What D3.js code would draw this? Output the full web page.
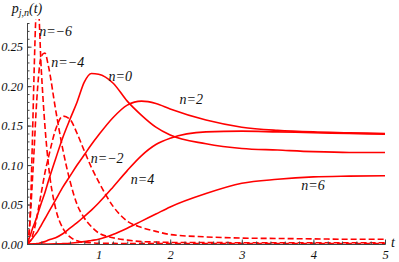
<!doctype html>
<html lang="en">
<head>
<meta charset="utf-8">
<title>p_jn(t)</title>
<script src="https://d3js.org/d3.v7.min.js"></script>
<style>
  body { margin: 0; background: #fff; }
  svg text { font-family: 'Liberation Serif', 'Times New Roman', serif; font-style: italic; fill: #111; }
</style>
</head>
<body>
<svg id="chart" width="399" height="262"></svg>
<script>
// time grid (t) shared by all curves
var tGrid = [0, 0.025, 0.05, 0.075, 0.1, 0.125, 0.15, 0.2, 0.25, 0.3, 0.4, 0.5, 0.6, 0.7, 0.8, 0.9, 1.0, 1.2, 1.4, 1.6, 1.8, 2.0, 2.5, 3.0, 3.5, 4.0, 4.5, 5.0];

// values, one array per n
var pNeg6 = [0, 0.01, 0.05, 0.13, 0.22, 0.29, 0.31, 0.22, 0.15, 0.10, 0.045, 0.02, 0.009, 0.004, 0.002, 0.0015, 0.001, 0.0008, 0.0006, 0.0005, 0.0005, 0.0005, 0.0005, 0.0005, 0.0005, 0.0005, 0.0005, 0.0005];
var pNeg4 = [0, 0.01, 0.04, 0.08, 0.12, 0.165, 0.2, 0.238, 0.242, 0.225, 0.17, 0.12, 0.08, 0.05, 0.033, 0.022, 0.014, 0.008, 0.005, 0.003, 0.0025, 0.002, 0.0018, 0.0016, 0.0015, 0.0015, 0.0015, 0.0015];
var pNeg2 = [0, 0.002, 0.005, 0.01, 0.018, 0.028, 0.04, 0.065, 0.09, 0.11, 0.145, 0.162, 0.158, 0.14, 0.118, 0.097, 0.079, 0.048, 0.029, 0.021, 0.016, 0.012, 0.009, 0.0075, 0.007, 0.0065, 0.006, 0.006];
var pPos0 = [0, 0.006, 0.012, 0.019, 0.025, 0.031, 0.038, 0.052, 0.065, 0.08, 0.108, 0.135, 0.158, 0.18, 0.205, 0.216, 0.215, 0.204, 0.181, 0.163, 0.148, 0.138, 0.127, 0.121, 0.119, 0.117, 0.116, 0.116];
var pPos2 = [0, 0.002, 0.004, 0.007, 0.01, 0.013, 0.016, 0.024, 0.032, 0.04, 0.056, 0.072, 0.086, 0.1, 0.113, 0.126, 0.138, 0.16, 0.176, 0.181, 0.178, 0.171, 0.157, 0.148, 0.144, 0.142, 0.141, 0.140];
var pPos4 = [0, 0, 0, 0, 0.0002, 0.0004, 0.0006, 0.002, 0.003, 0.005, 0.008, 0.013, 0.02, 0.027, 0.035, 0.043, 0.052, 0.072, 0.093, 0.112, 0.126, 0.134, 0.142, 0.143, 0.142, 0.141, 0.140, 0.139];
var pPos6 = [0, 0, 0, 0, 0, 0, 0, 0, 0, 0, 0.0001, 0.0005, 0.001, 0.002, 0.003, 0.0045, 0.006, 0.012, 0.02, 0.029, 0.038, 0.047, 0.064, 0.077, 0.082, 0.085, 0.086, 0.0865];

var series = [
  { name: "n=−6", values: pNeg6, dashed: true },
  { name: "n=−4", values: pNeg4, dashed: true },
  { name: "n=−2", values: pNeg2, dashed: true },
  { name: "n=0", values: pPos0, dashed: false },
  { name: "n=2", values: pPos2, dashed: false },
  { name: "n=4", values: pPos4, dashed: false },
  { name: "n=6", values: pPos6, dashed: false }
];

// curve labels: [label, t, p] placed in data coordinates
var labels = [
  ["n=−6", 0.17, 0.263],
  ["n=−4", 0.34, 0.224],
  ["n=−2", 0.89, 0.102],
  ["n=0", 1.14, 0.207],
  ["n=2", 2.13, 0.177],
  ["n=4", 1.45, 0.076],
  ["n=6", 3.83, 0.068]
];

var xTicks = [1, 2, 3, 4, 5];
var yTicks = [0, 0.05, 0.10, 0.15, 0.20, 0.25];

var serif = "'Liberation Serif', 'Times New Roman', serif";

var svg = d3.select("#chart");

var x = d3.scaleLinear().domain([0, 5]).range([27, 385]);
var y = d3.scaleLinear().domain([0, 0.28]).range([244, 23]);

svg.append("clipPath").attr("id", "plotclip")
  .append("rect").attr("x", 27).attr("y", 19).attr("width", 362).attr("height", 230);

// curves
var line = d3.line()
  .x(function(d) { return x(d[0]); })
  .y(function(d) { return y(d[1]); })
  .curve(d3.curveMonotoneX);

svg.append("g").attr("clip-path", "url(#plotclip)")
  .selectAll("path")
  .data(series)
  .enter().append("path")
  .attr("d", function(s) { return line(tGrid.map(function(t, i) { return [t, s.values[i]]; })); })
  .attr("fill", "none")
  .attr("stroke", "#ff0000")
  .attr("stroke-width", 1.6)
  .attr("stroke-dasharray", function(s) { return s.dashed ? "6,3" : null; });

// axes, Mathematica style: ticks pointing into the plot
svg.append("g").attr("transform", "translate(0," + y(0) + ")")
  .call(d3.axisBottom(x).tickValues(d3.range(0.2, 5.01, 0.2)).tickSizeInner(-2.5).tickSizeOuter(0).tickFormat(""));
svg.append("g").attr("transform", "translate(0," + y(0) + ")")
  .call(d3.axisBottom(x).tickValues(xTicks).tickSizeInner(-4.5).tickSizeOuter(0).tickPadding(6).tickFormat(d3.format("d")));

svg.append("g").attr("transform", "translate(" + x(0) + ",0)")
  .call(d3.axisLeft(y).tickValues(d3.range(0.01, 0.2801, 0.01)).tickSizeInner(-2.5).tickSizeOuter(0).tickFormat(""));
svg.append("g").attr("transform", "translate(" + x(0) + ",0)")
  .call(d3.axisLeft(y).tickValues(yTicks).tickSizeInner(-4.5).tickSizeOuter(0).tickPadding(4).tickFormat(d3.format(".2f")));

svg.selectAll("g").attr("font-family", serif);
svg.selectAll(".domain").attr("stroke", "#444").attr("stroke-width", 1);
svg.selectAll(".tick line").attr("stroke", "#444");
svg.selectAll(".tick text")
  .attr("font-family", serif)
  .attr("font-style", "italic")
  .attr("font-size", 12.5)
  .attr("fill", "#111");

// curve labels
svg.append("g").selectAll("text")
  .data(labels)
  .enter().append("text")
  .attr("x", function(d) { return x(d[1]); })
  .attr("y", function(d) { return y(d[2]); })
  .attr("font-family", serif)
  .attr("font-style", "italic")
  .attr("font-size", 14)
  .text(function(d) { return d[0]; });

// axis titles: y label centred over the top of the axis
var yt = svg.append("text").attr("x", x(0)).attr("y", 13)
  .attr("text-anchor", "middle")
  .attr("font-family", serif).attr("font-style", "italic").attr("font-size", 14);
yt.append("tspan").text("p");
yt.append("tspan").attr("dy", 3).attr("font-size", 10).text("j,n");
yt.append("tspan").attr("dy", -3).text("(t)");

svg.append("text").attr("x", 391).attr("y", 247)
  .attr("font-family", serif).attr("font-style", "italic").attr("font-size", 14).text("t");
</script>
</body>
</html>
